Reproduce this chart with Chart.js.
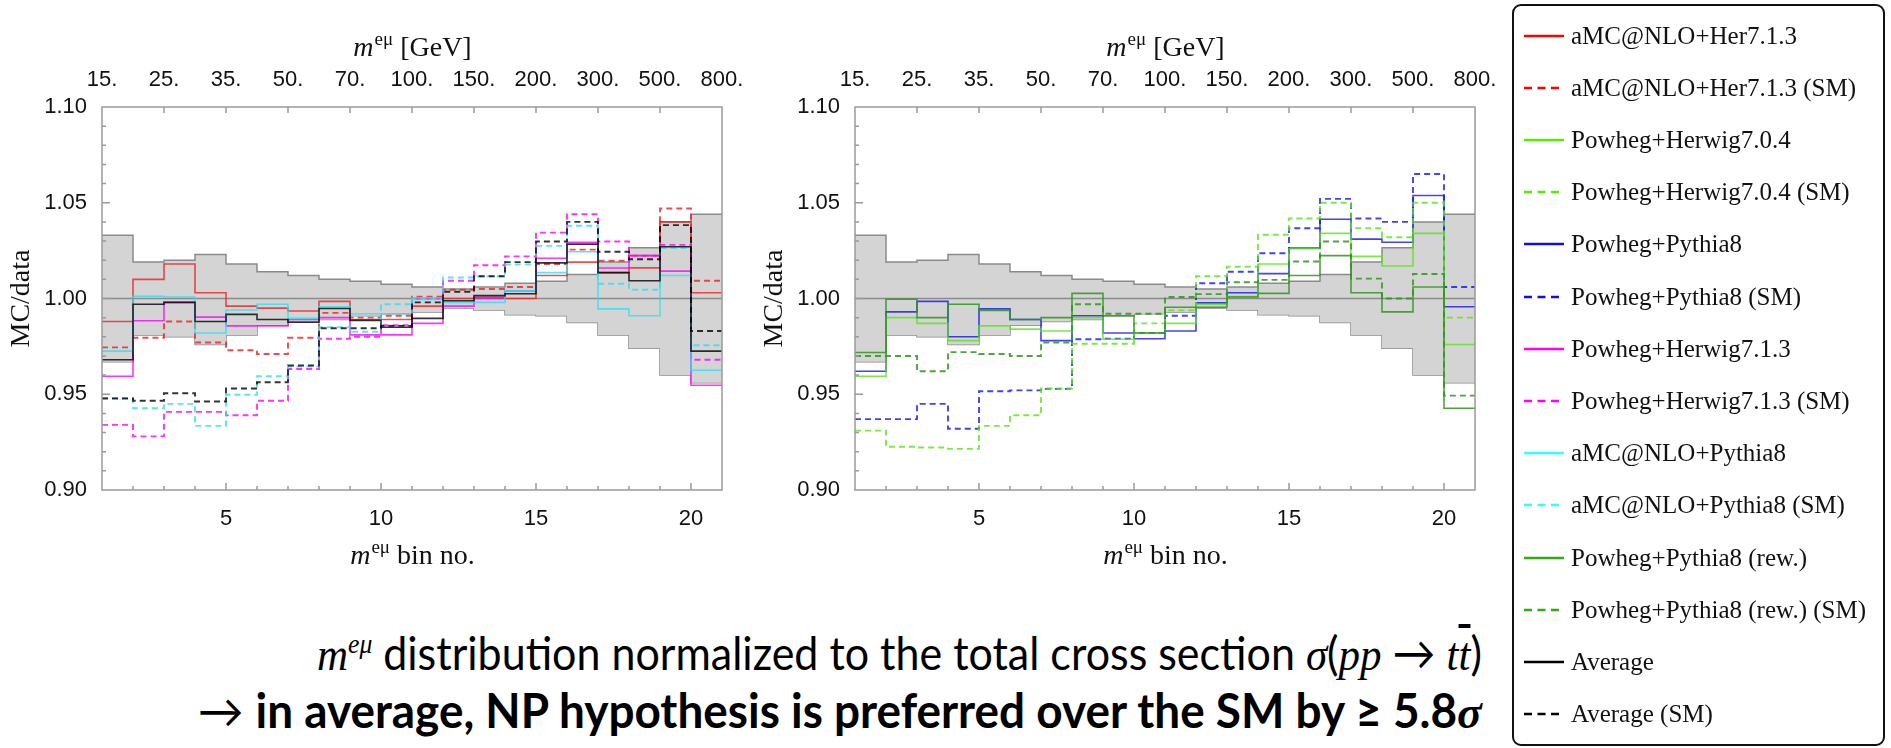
<!DOCTYPE html>
<html>
<head>
<meta charset="utf-8">
<script src="https://cdn.jsdelivr.net/npm/chart.js@4.4.0/dist/chart.umd.min.js"></script>
<style>
  body { margin: 0; width: 1891px; height: 748px; background: #fff; position: relative; overflow: hidden; }
  canvas { position: absolute; top: 0; }
  #cLeft { left: 0; }
  #cRight { left: 753px; }
  #legend { position: absolute; left: 1512px; top: 4px; width: 373px; height: 742px; border: 2.5px solid #111;
            border-radius: 9px; box-sizing: border-box; font-family: 'Liberation Serif', serif; }
  .item { position: absolute; left: 8px; height: 30px; display: flex; align-items: center; font-size: 25px; color: #111; white-space: nowrap; }
  .item svg { width: 42px; height: 6px; margin-right: 7px; }
  .note { position: absolute; right: 409px; white-space: nowrap; font-family: Lato, 'Open Sans', sans-serif; font-size: 47px;
          color: #000; transform-origin: right center; line-height: 56px; }
  .note i { font-family: 'Liberation Serif', serif; }
  .over { text-decoration: overline; }
</style>
</head>
<body>
<canvas id="cLeft" width="760" height="580"></canvas>
<canvas id="cRight" width="760" height="580"></canvas>
<div id="legend"></div>
<div class="note" id="note1" style="top:614px"><i>m</i><sup style="font-size:28px"><i>eμ</i></sup> distribution normalized to the total cross section <i>σ</i>(<i>pp</i> → <i>t</i><i class="over">t</i>)</div>
<div class="note" id="note2" style="top:682px">→ <b>in average, NP hypothesis is preferred over the SM by ≥ 5.8<i>σ</i></b></div>
<script>
// bin edges (m^eμ bin no.) and axis ticks
const binEdges = [1,2,3,4,5,6,7,8,9,10,11,12,13,14,15,16,17,18,19,20,21];
const binTicks = [5, 10, 15, 20];
const massTickBins = [1, 3, 5, 7, 9, 11, 13, 15, 17, 19, 21];
const massLabels = ['15.', '25.', '35.', '50.', '70.', '100.', '150.', '200.', '300.', '500.', '800.'];
const yTicks = [0.90, 0.95, 1.00, 1.05, 1.10];
const refLevel = 1.0;

// data uncertainty band
const bandUp = [1.033,1.019,1.020,1.023,1.018,1.014,1.012,1.010,1.009,1.0075,1.006,1.005,1.006,1.008,1.009,1.0125,1.019,1.0265,1.040,1.044];
const bandLo = [0.967,0.981,0.980,0.976,0.981,0.986,0.988,0.989,0.991,0.992,0.993,0.995,0.994,0.9915,0.991,0.9875,0.981,0.974,0.960,0.956];

// left panel
const aMCHer     = [0.988,1.010,1.018,1.003,0.996,0.995,0.9935,0.9985,0.989,0.989,0.996,1.000,1.0006,1.000,1.012,1.019,1.0135,1.016,1.040,1.003];
const aMCHerSM   = [0.9745,0.9795,0.988,0.977,0.973,0.971,0.9795,0.9925,0.990,0.991,1.001,1.0046,1.005,1.006,1.018,1.0255,1.0197,1.0224,1.047,1.0093];
const powHer713  = [0.9594,0.9884,0.998,0.9903,0.9857,0.9857,0.989,0.990,0.981,0.981,0.987,0.996,1.000,1.0039,1.021,1.0294,1.0159,1.0224,1.0143,0.9547];
const powHer713SM= [0.934,0.928,0.9408,0.9408,0.939,0.9466,0.9632,0.979,0.980,0.986,1.000,1.0093,1.0174,1.022,1.0344,1.044,1.0298,1.0224,1.028,0.968];
const aMCPy8     = [0.9725,1.0012,1.0008,0.982,0.994,0.997,0.9896,0.9957,0.992,0.992,1.0004,0.998,0.998,1.004,1.0135,1.0244,0.9946,0.991,1.012,0.9625];
const aMCPy8SM   = [0.948,0.9427,0.945,0.9335,0.9497,0.9594,0.9644,0.985,0.9826,0.997,0.9996,1.011,1.0116,1.0178,1.0275,1.038,1.0077,1.0046,1.0263,0.9756];
const average    = [0.968,0.997,0.998,0.988,0.9917,0.989,0.9876,0.9948,0.9886,0.985,0.9896,0.9988,1.0015,1.0025,1.0186,1.0284,1.0135,1.0093,1.027,0.9725];
const averageSM  = [0.9478,0.9466,0.9505,0.9462,0.953,0.9563,0.965,0.9845,0.9845,0.9857,0.998,1.0035,1.0116,1.019,1.0298,1.040,1.0244,1.0205,1.0383,0.983];

// right panel
const powHer704  = [0.9594,0.990,0.987,0.978,0.9857,0.984,0.983,0.990,0.9787,0.982,0.987,0.997,1.001,1.018,1.026,1.034,1.022,1.017,1.034,0.976];
const powHer704SM= [0.931,0.9226,0.9222,0.9215,0.9335,0.939,0.953,0.9764,0.9764,0.987,0.9938,1.0116,1.0166,1.0333,1.0418,1.050,1.0367,1.032,1.050,0.990];
const powPy8     = [0.962,0.993,0.9985,0.980,0.9946,0.989,0.978,0.991,0.982,0.979,0.983,0.9977,1.003,1.013,1.0263,1.0414,1.031,1.0294,1.0538,0.9957];
const powPy8SM   = [0.937,0.937,0.945,0.932,0.9516,0.952,0.9528,0.9787,0.979,0.982,0.991,1.008,1.014,1.0236,1.0367,1.052,1.0418,1.040,1.065,1.006];
const powPy8rew  = [0.9718,0.9996,0.990,0.997,0.9938,0.989,0.990,1.0027,0.991,0.982,0.9954,0.9954,1.0008,1.0027,1.012,1.0224,1.003,0.993,1.006,0.9427];
const powPy8rewSM= [0.970,0.970,0.962,0.972,0.971,0.970,0.977,0.997,0.992,0.992,1.0008,1.0023,1.0085,1.0097,1.0193,1.0298,1.0104,1.000,1.0128,0.9493];

// legend
const legendNames = ['aMC@NLO+Her7.1.3', 'aMC@NLO+Her7.1.3 (SM)', 'Powheg+Herwig7.0.4', 'Powheg+Herwig7.0.4 (SM)',
  'Powheg+Pythia8', 'Powheg+Pythia8 (SM)', 'Powheg+Herwig7.1.3', 'Powheg+Herwig7.1.3 (SM)',
  'aMC@NLO+Pythia8', 'aMC@NLO+Pythia8 (SM)', 'Powheg+Pythia8 (rew.)', 'Powheg+Pythia8 (rew.) (SM)', 'Average', 'Average (SM)'];
const legendColors = ['#ff0000','#ff0000','#55ee00','#55ee00','#1010e0','#1010e0','#ff00ff','#ff00ff',
  '#33ffff','#33ffff','#33aa11','#33aa11','#000000','#000000'];

const col = {
  red: 'rgba(240,30,30,0.8)', magenta: 'rgba(255,0,255,0.8)', cyan: 'rgba(40,225,245,0.8)', black: 'rgba(0,0,0,0.8)',
  green: 'rgba(85,230,20,0.8)', blue: 'rgba(20,20,240,0.8)', dkgreen: 'rgba(45,150,25,0.85)'
};

function steps(vals) {
  const pts = vals.map((v, i) => ({ x: binEdges[i], y: v }));
  pts.push({ x: binEdges[binEdges.length - 1], y: vals[vals.length - 1] });
  return pts;
}

function series(vals, color, dashed) {
  return { data: steps(vals), borderColor: color, borderWidth: dashed ? 1.9 : 1.6, borderDash: dashed ? [6, 4] : [],
           stepped: true, pointRadius: 0, fill: false, order: 0 };
}

function baseSets() {
  return [
    { data: steps(bandUp), borderColor: '#8a8a8a', borderWidth: 1.5, backgroundColor: '#d4d4d4', fill: '+1', stepped: true, pointRadius: 0, order: 10 },
    { data: steps(bandLo), borderColor: '#8a8a8a', borderWidth: 1.5, fill: false, stepped: true, pointRadius: 0, order: 10 },
    { data: [{ x: binEdges[0], y: refLevel }, { x: binEdges[20], y: refLevel }], borderColor: '#8a8a8a', borderWidth: 1.5, pointRadius: 0, fill: false, order: 9 }
  ];
}

function mathTitle(ctx, cx, cy, rest) {
  const big = "28px 'Liberation Serif'", sup = "19px 'Liberation Serif'", it = "italic 28px 'Liberation Serif'";
  ctx.font = it; const w1 = ctx.measureText('m').width;
  ctx.font = sup; const w2 = ctx.measureText('eμ').width;
  ctx.font = big; const w3 = ctx.measureText(rest).width;
  let x = cx - (w1 + w2 + w3) / 2;
  ctx.textAlign = 'left'; ctx.textBaseline = 'alphabetic';
  ctx.font = it; ctx.fillText('m', x, cy + 9); x += w1 + 1;
  ctx.font = sup; ctx.fillText('eμ', x, cy - 2); x += w2;
  ctx.font = big; ctx.fillText(rest, x, cy + 9);
}

const frameDeco = {
  id: 'frameDeco',
  afterDraw(chart) {
    const { ctx, chartArea: a, scales } = chart;
    const xs = scales.x, ys = scales.y;
    ctx.save();
    ctx.strokeStyle = '#9a9a9a';
    ctx.lineWidth = 1.5;
    ctx.strokeRect(a.left, a.top, a.right - a.left, a.bottom - a.top);
    ctx.beginPath();
    for (let i = 1; i < 20; i++) {
      const v = 0.90 + i * 0.01, p = ys.getPixelForValue(v);
      const len = i % 5 === 0 ? 8 : 4;
      ctx.moveTo(a.left, p); ctx.lineTo(a.left + len, p);
    }
    for (let b = 2; b <= 20; b++) {
      const p = xs.getPixelForValue(b), len = b % 5 === 0 ? 7 : 4;
      ctx.moveTo(p, a.bottom); ctx.lineTo(p, a.bottom - len);
    }
    massTickBins.slice(1, -1).forEach(b => {
      const p = xs.getPixelForValue(b);
      ctx.moveTo(p, a.top); ctx.lineTo(p, a.top + 6);
    });
    ctx.stroke();
    ctx.fillStyle = '#111';
    const cx = (a.left + a.right) / 2;
    mathTitle(ctx, cx, 47, ' [GeV]');
    mathTitle(ctx, cx, 555, ' bin no.');
    ctx.translate(22, (a.top + a.bottom) / 2);
    ctx.rotate(-Math.PI / 2);
    ctx.font = "28px 'Liberation Serif'";
    ctx.textAlign = 'center'; ctx.textBaseline = 'middle';
    ctx.fillText('MC/data', 0, 0);
    ctx.restore();
  }
};

const tickFont = { family: "'Liberation Sans', Arial, sans-serif", size: 22 };

function makeChart(id, sets) {
  return new Chart(document.getElementById(id), {
    type: 'line',
    data: { datasets: baseSets().concat(sets) },
    options: {
      responsive: false, animation: false,
      layout: { padding: { left: 0, right: 38, top: 0, bottom: 0 } },
      plugins: { legend: { display: false }, tooltip: { enabled: false } },
      scales: {
        x: { type: 'linear', position: 'bottom', min: 1, max: 21, grid: { display: false }, border: { display: false },
             afterBuildTicks: s => { s.ticks = binTicks.map(v => ({ value: v })); },
             afterFit: s => { s.height = 90; },
             ticks: { font: tickFont, color: '#111', padding: 8, maxRotation: 0, autoSkip: false } },
        xTop: { type: 'linear', position: 'top', min: 1, max: 21, grid: { display: false }, border: { display: false },
             afterBuildTicks: s => { s.ticks = massTickBins.map(v => ({ value: v })); },
             afterFit: s => { s.height = 107; },
             ticks: { font: tickFont, color: '#111', padding: 6, maxRotation: 0, autoSkip: false,
                      callback: v => massLabels[massTickBins.indexOf(v)] } },
        y: { min: 0.9, max: 1.1, grid: { display: false }, border: { display: false },
             afterBuildTicks: s => { s.ticks = yTicks.map(v => ({ value: v })); },
             afterFit: s => { s.width = 102; },
             ticks: { font: tickFont, color: '#111', padding: 7, callback: v => v.toFixed(2) } }
      }
    },
    plugins: [frameDeco]
  });
}

makeChart('cLeft', [
  series(averageSM, col.black, true), series(average, col.black, false),
  series(aMCPy8SM, col.cyan, true), series(aMCPy8, col.cyan, false),
  series(powHer713SM, col.magenta, true), series(powHer713, col.magenta, false),
  series(aMCHerSM, col.red, true), series(aMCHer, col.red, false)
]);

makeChart('cRight', [
  series(powPy8rewSM, col.dkgreen, true), series(powPy8rew, col.dkgreen, false),
  series(powHer704SM, col.green, true), series(powHer704, col.green, false),
  series(powPy8SM, col.blue, true), series(powPy8, col.blue, false)
]);

// legend box
const legend = document.getElementById('legend');
legendNames.forEach((name, k) => {
  const dashed = k % 2 === 1;
  const d = document.createElement('div');
  d.className = 'item';
  d.style.top = (36 + 52.2 * k - 15 - 6.5) + 'px';
  d.innerHTML = '<svg viewBox="0 0 42 6"><line x1="2" y1="3" x2="42" y2="3" stroke="' + legendColors[k] +
    '" stroke-width="2.5"' + (dashed ? ' stroke-dasharray="8 5.5"' : '') + '/></svg>' + name;
  legend.appendChild(d);
});

// fit the note lines to the widths in the slide
[['note1', 1165], ['note2', 1284]].forEach(([id, w]) => {
  const el = document.getElementById(id);
  el.style.transform = 'scaleX(' + (w / el.getBoundingClientRect().width) + ')';
});
</script>
</body>
</html>
